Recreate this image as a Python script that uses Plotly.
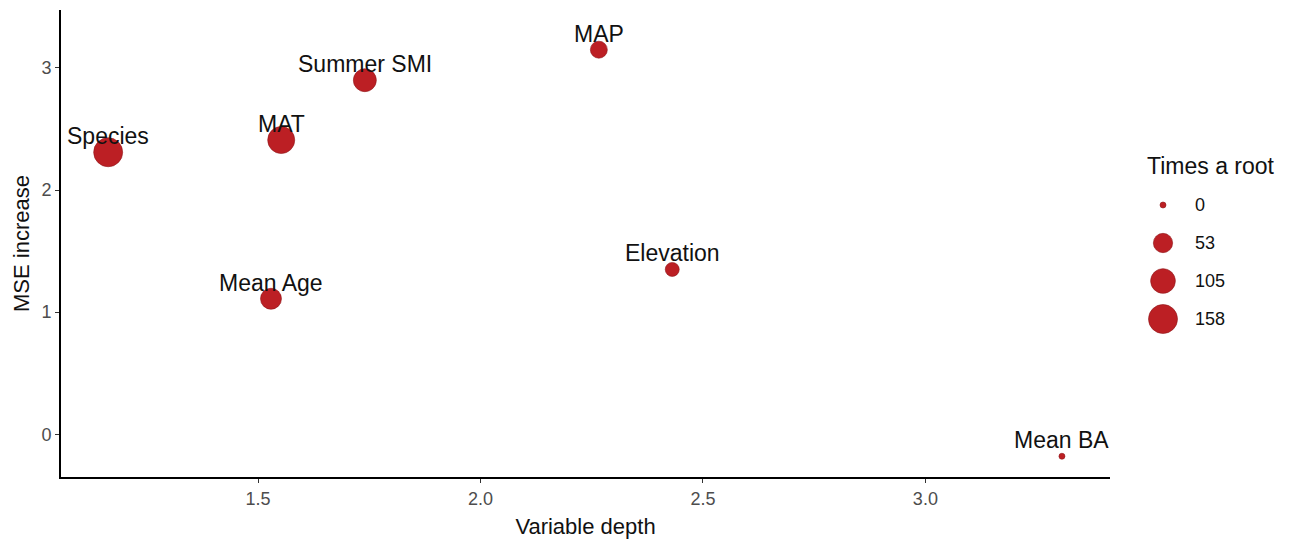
import numpy as np
import plotly.graph_objects as go

# Variable importance from the forest
variables = ["Species", "MAT", "Summer SMI", "MAP", "Elevation", "Mean Age", "Mean BA"]
depth = [1.163, 1.552, 1.740, 2.266, 2.431, 1.529, 3.307]
mse_increase = [2.31, 2.41, 2.90, 3.15, 1.35, 1.11, -0.18]
times_root = [158, 132, 86, 36, 19, 67, 0]

legend_breaks = [0, 53, 105, 158]

POINT_COLOR = "#BC1F24"
EDGE_COLOR = "#8E1619"
FONT = "Liberation Sans, Arial, sans-serif"

# size scale: diameter grows with sqrt of the count (area scaling)
D_MIN, D_MAX = 6.0, 29.0
vmax = max(times_root)


def diam(v):
    return D_MIN + (D_MAX - D_MIN) * np.sqrt(np.asarray(v, dtype=float) / vmax)


W, H = 1293, 539
ml, mr, mt, mb = 61, 10, 10, 62
pw = W - ml - mr
plot_right = 1110
main_end = (plot_right - ml) / pw
leg_start = 0.87


def px_to_paper_x(px):
    return (px - ml) / pw


fig = go.Figure()

fig.add_trace(go.Scatter(
    x=depth, y=mse_increase, mode="markers",
    marker=dict(size=diam(times_root), color=POINT_COLOR, opacity=1,
                line=dict(color=EDGE_COLOR, width=0.6)),
    hovertext=variables, showlegend=False,
))

annotations = []
for name, xv, yv in zip(variables, depth, mse_increase):
    annotations.append(dict(
        x=xv, y=yv, xref="x", yref="y", text=name, showarrow=False,
        yshift=16, xanchor="center", yanchor="middle",
        font=dict(family=FONT, size=23, color="#111111"),
    ))

# size legend drawn on its own hidden axes
leg_px_w = pw * (1 - leg_start)
leg_x0 = ml + pw * leg_start
marker_x = (1163 - leg_x0) / leg_px_w
plot_h = H - mt - mb
first_y, step = 205, 38
leg_y = [(H - mb) - (first_y + i * step) for i in range(len(legend_breaks))]

fig.add_trace(go.Scatter(
    x=[marker_x] * len(legend_breaks), y=leg_y, mode="markers",
    marker=dict(size=diam(legend_breaks), color=POINT_COLOR, opacity=1,
                line=dict(color=EDGE_COLOR, width=0.6)),
    xaxis="x2", yaxis="y2", showlegend=False, hoverinfo="skip",
))
for b, yv in zip(legend_breaks, leg_y):
    annotations.append(dict(
        x=px_to_paper_x(1193), y=yv, xref="paper", yref="y2", text=str(b),
        showarrow=False, xanchor="left", yanchor="middle",
        font=dict(family=FONT, size=18, color="#111111"),
    ))
annotations.append(dict(
    x=px_to_paper_x(1145), y=(H - mb) - 166, xref="paper", yref="y2",
    text="Times a root", showarrow=False, xanchor="left", yanchor="middle",
    font=dict(family=FONT, size=23, color="#111111"),
))

tick_font = dict(family=FONT, size=18, color="#4D4D4D")
title_font = dict(family=FONT, size=22, color="#111111")

fig.update_layout(
    width=W, height=H,
    margin=dict(l=ml, r=mr, t=mt, b=mb),
    paper_bgcolor="white", plot_bgcolor="white",
    annotations=annotations,
    xaxis=dict(
        domain=[0, main_end], range=[1.057, 3.415],
        tickvals=[1.5, 2.0, 2.5, 3.0], tickformat=".1f",
        showgrid=False, zeroline=False, automargin=False,
        showline=True, linecolor="black", linewidth=2,
        ticks="outside", ticklen=4, tickcolor="#333333", tickwidth=1,
        tickfont=tick_font,
        title=dict(text="Variable depth", font=title_font, standoff=12),
    ),
    yaxis=dict(
        range=[-0.35, 3.475], tickvals=[0, 1, 2, 3],
        showgrid=False, zeroline=False, automargin=False,
        showline=True, linecolor="black", linewidth=2,
        ticks="outside", ticklen=4, tickcolor="#333333", tickwidth=1,
        tickfont=tick_font,
        title=dict(text="MSE increase", font=title_font, standoff=6),
    ),
    xaxis2=dict(domain=[leg_start, 1], range=[0, 1], visible=False, anchor="y2"),
    yaxis2=dict(domain=[0, 1], range=[0, plot_h], visible=False, anchor="x2"),
)

fig.write_html("out.html")
